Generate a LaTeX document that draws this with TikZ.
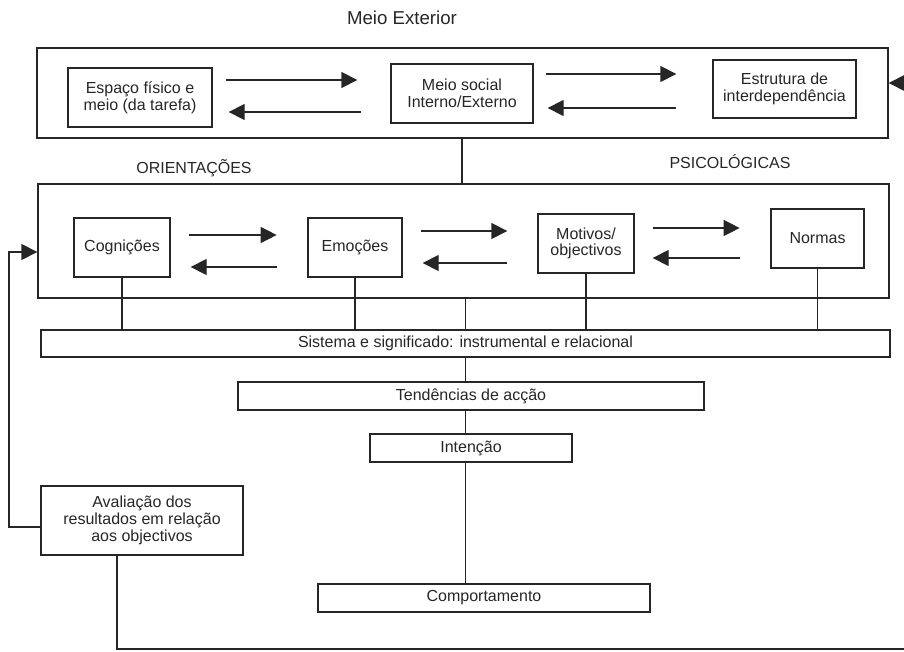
\documentclass[tikz,border=0pt]{standalone}
\usepackage{fontspec}
\setmainfont{Liberation Sans}
\usetikzlibrary{arrows.meta}

\begin{document}
\begin{tikzpicture}[x=0.75pt,y=-0.75pt,
  box/.style={draw=black!85, line width=1pt, inner sep=2pt, align=center,
    text=black!85, font=\fontsize{12}{12.5}\selectfont},
  arr/.style={draw=black!85, line width=1pt, -{Triangle[length=12pt,width=12pt]}},
  ln/.style={draw=black!85, line width=1pt},
  lbl/.style={text=black!85, font=\fontsize{12}{14}\selectfont}]
\useasboundingbox (0,0) rectangle (904,652);

\node[lbl, font=\fontsize{14}{16}\selectfont] (title) at (402,18) {Meio Exterior};

\node[box, minimum width=638.25pt, minimum height=67.5pt] (exterior) at (462.5,93) {};
\node[box, minimum width=108pt, minimum height=44.25pt] (esp) at (140,97.5) {Espaço físico e\\meio (da tarefa)};
\node[box, minimum width=106.5pt, minimum height=44.25pt] (social) at (462,93.5) {Meio social\\Interno/Externo};
\node[box, minimum width=107.25pt, minimum height=43.5pt] (estr) at (784.5,89) {Estrutura de\\interdependência};

\node[lbl] (orientlbl) at (194,168) {ORIENTAÇÕES};
\node[lbl] (psilbl) at (730,162) {PSICOLÓGICAS};

\node[box, minimum width=638.25pt, minimum height=85.5pt] (orient) at (463.5,241) {};
\node[box, minimum width=72pt, minimum height=44.25pt] (cog) at (122,247.5) {Cognições};
\node[box, minimum width=70.5pt, minimum height=44.25pt] (emo) at (355,247.5) {Emoções};
\node[box, minimum width=72pt, minimum height=44.25pt] (mot) at (586,243.5) {Motivos/\\objectivos};
\node[box, minimum width=69.75pt, minimum height=44.25pt] (norm) at (817.5,238.5) {Normas};

\node[box, minimum width=636.75pt, minimum height=20.25pt] (sis) at (465.5,343.5) {Sistema e significado: instrumental e relacional};
\node[box, minimum width=349.5pt, minimum height=21pt] (tend) at (471,396) {Tendências de acção};
\node[box, minimum width=151.5pt, minimum height=21pt] (int) at (471,448) {Intenção};
\node[box, minimum width=151.5pt, minimum height=51.75pt] (aval) at (142,520.5) {Avaliação dos\\resultados em relação\\aos objectivos};
\node[box, minimum width=249pt, minimum height=21pt] (comp) at (484,598) {Comportamento};

\draw[arr, shorten <=9.75pt, shorten >=24.75pt] (esp.east |- 0,80) -- (social.west |- 0,80);
\draw[arr, shorten <=21.75pt, shorten >=12pt] (social.west |- 0,112) -- (esp.east |- 0,112);
\draw[arr, shorten <=9pt, shorten >=27pt] (social.east |- 0,74) -- (estr.west |- 0,74);
\draw[arr, shorten <=27pt, shorten >=10.5pt] (estr.west |- 0,108) -- (social.east |- 0,108);

\draw[arr, shorten <=13.5pt, shorten >=23pt] (cog.east |- 0,235) -- (emo.west |- 0,235);
\draw[arr, shorten <=23pt, shorten >=15pt] (emo.west |- 0,267) -- (cog.east |- 0,267);
\draw[arr, shorten <=13.5pt, shorten >=22.5pt] (emo.east |- 0,231) -- (mot.west |- 0,231);
\draw[arr, shorten <=22.5pt, shorten >=15pt] (mot.west |- 0,263) -- (emo.east |- 0,263);
\draw[arr, shorten <=13.5pt, shorten >=23pt] (mot.east |- 0,228) -- (norm.west |- 0,228);
\draw[arr, shorten <=22.5pt, shorten >=13.5pt] (norm.west |- 0,258) -- (mot.east |- 0,258);

\draw[ln] (exterior.south -| social) -- (orient.north -| social);
\draw[ln] (cog.south) -- (cog.south |- sis.north);
\draw[ln] (emo.south) -- (emo.south |- sis.north);
\draw[ln] (mot.south) -- (mot.south |- sis.north);
\draw[ln] (norm.south) -- (norm.south |- sis.north);
\draw[ln] (orient.south -| sis) -- (sis.north);
\draw[ln] (sis.south) -- (sis.south |- tend.north);
\draw[ln] (tend.south -| sis) -- (int.north -| sis);
\draw[ln] (int.south -| sis) -- (comp.north -| sis);

\coordinate (fbtop) at (9,252);
\coordinate (fbbot) at (9,527);
\draw[arr] (aval.west |- fbbot) -- (fbbot) -- (fbtop) -- (orient.west |- fbtop);

\coordinate (lpleft) at (117,649);
\coordinate (lpright) at (904,649);
\draw[ln] (aval.south -| lpleft) -- (lpleft) -- (lpright);
\coordinate (lptop) at (904,83);
\draw[arr] (lptop) -- (exterior.east |- lptop);
\end{tikzpicture}
\end{document}
